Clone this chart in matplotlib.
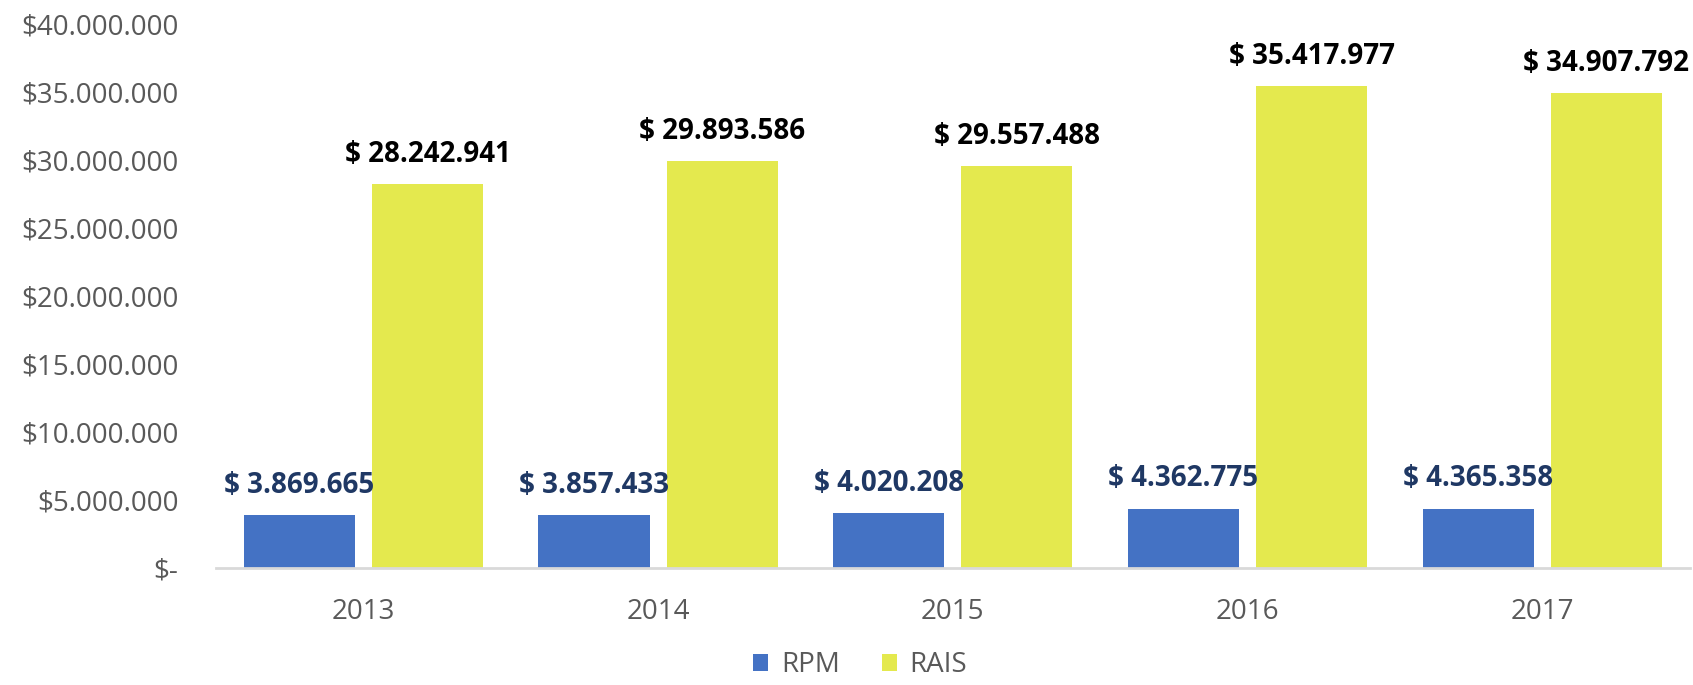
import matplotlib.pyplot as plt
import numpy as np

plt.rcParams['font.family'] = ['Open Sans', 'DejaVu Sans']

years = ['2013', '2014', '2015', '2016', '2017']
rpm = [3869665, 3857433, 4020208, 4362775, 4365358]
rais = [28242941, 29893586, 29557488, 35417977, 34907792]


def money(v):
    return '$ ' + f'{v:,}'.replace(',', '.')


def ytick(v, pos):
    if v == 0:
        return '$-'
    return '$' + f'{int(v):,}'.replace(',', '.')


fig = plt.figure(figsize=(16.93, 6.85), dpi=100)
ax = fig.add_axes([0.1276, 0.171, 0.8704, 0.794])

x = np.arange(len(years))
w = 0.377
off = 0.2175
b1 = ax.bar(x - off, rpm, w, color='#4472C4', label='RPM')
b2 = ax.bar(x + off, rais, w, color='#E4E94E', label='RAIS')

for xi, v in zip(x, rpm):
    ax.annotate(money(v), (xi - off, v), xytext=(0, 11), textcoords='offset points',
                ha='center', va='bottom', fontsize=20, fontweight='bold', color='#1F3864')
for xi, v in zip(x, rais):
    ax.annotate(money(v), (xi + off, v), xytext=(0, 11), textcoords='offset points',
                ha='center', va='bottom', fontsize=20, fontweight='bold', color='black')

ax.set_xlim(-0.5, len(years) - 0.5)
ax.set_ylim(0, 40000000)
ax.set_yticks(np.arange(0, 40000001, 5000000))
ax.yaxis.set_major_formatter(plt.FuncFormatter(ytick))
ax.set_xticks(x)
ax.set_xticklabels(years)
ax.tick_params(axis='y', length=0, pad=27, labelsize=20, labelcolor='#595959')
ax.tick_params(axis='x', length=0, pad=22, labelsize=20, labelcolor='#595959')

for s in ['top', 'right', 'left']:
    ax.spines[s].set_visible(False)
ax.spines['bottom'].set_color('#D9D9D9')
ax.spines['bottom'].set_linewidth(2)

leg = fig.legend(handles=[b1, b2], loc='lower center', bbox_to_anchor=(0.508, -0.028),
                 ncol=2, frameon=False, fontsize=20, handlelength=0.55, handleheight=0.55,
                 handletextpad=0.45, columnspacing=1.5)
for t in leg.get_texts():
    t.set_color('#595959')

fig.savefig('out.png', dpi=100)
